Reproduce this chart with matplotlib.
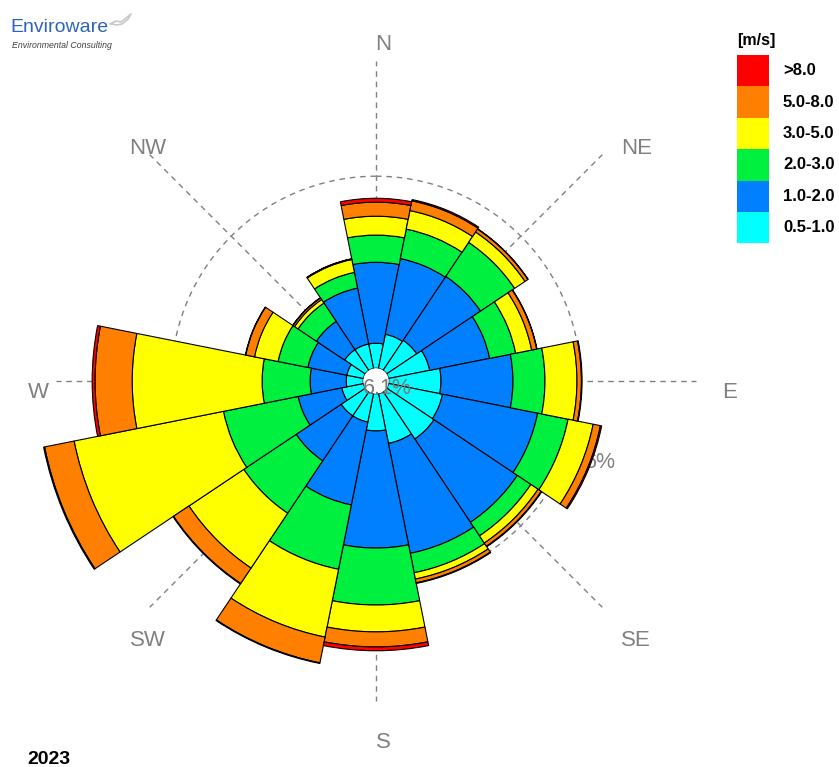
import numpy as np
import matplotlib
matplotlib.use("Agg")
import matplotlib.pyplot as plt
from matplotlib.lines import Line2D
from matplotlib.patches import Rectangle

# ---- data -----------------------------------------------------------------
directions = ["N", "NNE", "NE", "ENE", "E", "ESE", "SE", "SSE",
              "S", "SSW", "SW", "WSW", "W", "WNW", "NW", "NNW"]
speed_labels = ["0.5-1.0", "1.0-2.0", "2.0-3.0", "3.0-5.0", "5.0-8.0", ">8.0"]

# frequency of occurrence (%) for each direction, one list per speed class
freq_05_10 = [0.78, 1.09, 1.13, 1.31, 1.63, 1.72, 1.78, 1.59,
              1.16, 0.91, 0.91, 0.69, 0.53, 0.53, 0.78, 0.78]
freq_10_20 = [2.53, 2.41, 2.40, 1.91, 2.25, 3.03, 3.13, 3.50,
              3.66, 2.64, 1.69, 1.39, 1.13, 1.24, 1.06, 1.78]
freq_20_30 = [0.85, 0.94, 1.28, 0.83, 1.00, 0.97, 0.51, 0.62,
              1.78, 2.05, 1.97, 2.38, 1.50, 0.95, 0.69, 0.50]
freq_30_50 = [0.59, 0.59, 0.39, 0.51, 1.00, 0.80, 0.27, 0.20,
              0.84, 2.16, 2.06, 4.76, 4.06, 0.75, 0.13, 0.41]
freq_50_80 = [0.44, 0.31, 0.11, 0.16, 0.14, 0.23, 0.12, 0.12,
              0.47, 0.82, 0.58, 0.94, 1.16, 0.28, 0.06, 0.02]
freq_gt_80 = [0.12, 0.04, 0.01, 0.01, 0.02, 0.04, 0.02, 0.02,
              0.12, 0.02, 0.02, 0.03, 0.09, 0.01, 0.01, 0.00]

calms_pct = 6.1
ring_pct = 6
year_label = "2023"

speed_colors = ["#00FFFF", "#0080FF", "#00F040", "#FFFF00", "#FF8000", "#FF0000"]

# ---- figure ---------------------------------------------------------------
W_PX, H_PX = 839, 767
DPI = 100
fig = plt.figure(figsize=(W_PX / DPI, H_PX / DPI), dpi=DPI, facecolor="white")


def fx(px):
    return px / W_PX


def fy(py):
    return 1 - py / H_PX


# polar axes geometry (pixels)
cx, cy = 376, 381          # centre of the rose
px_per_pct = 32.0          # radial scale
hole = 0.4                 # calm circle, in % units
rmax = 11.0
R = (rmax + hole) * px_per_pct
ax = fig.add_axes([fx(cx - R), fy(cy + R), 2 * R / W_PX, 2 * R / H_PX],
                  projection="polar")
ax.set_theta_zero_location("N")
ax.set_theta_direction(-1)
ax.set_rorigin(-hole)
ax.set_ylim(0, rmax)
ax.set_axis_off()

n = len(directions)
theta = np.arange(n) * 2 * np.pi / n
width = 2 * np.pi / n

# dashed guide lines and ring
guide = dict(color="#808080", lw=1.0, linestyle=(0, (4, 3.5)), zorder=1)
for k in range(8):
    a = k * np.pi / 4
    ax.plot([a, a], [0, 9.6], **guide)
circ = np.linspace(0, 2 * np.pi, 400)
ax.plot(circ, np.full_like(circ, ring_pct), **guide)

# ring label, drawn beneath the bars
ax.text(fx(616), fy(462), f"{ring_pct}%", ha="right", va="center",
        transform=fig.transFigure, color="#808080", fontsize=15.5,
        family="Liberation Sans", zorder=2)

# stacked bars
series = [freq_05_10, freq_10_20, freq_20_30, freq_30_50, freq_50_80, freq_gt_80]
bottom = np.zeros(n)
for vals, col in zip(series, speed_colors):
    vals = np.asarray(vals)
    ax.bar(theta, vals, width=width, bottom=bottom, color=col,
           edgecolor="black", linewidth=0.8, align="center", zorder=3)
    bottom = bottom + vals

# calms in the centre
fig.text(fx(387), fy(388), f"{calms_pct}%", ha="center", va="center",
         color="#7a7a7a", fontsize=15.5, family="Liberation Sans", zorder=10)

# compass labels
compass = {"N": (383, 45), "NE": (637, 148), "E": (730, 393), "SE": (636, 640),
           "S": (383, 742), "SW": (148, 640), "W": (38, 393), "NW": (148, 148)}
for lab, (x, y) in compass.items():
    fig.text(fx(x), fy(y), lab, ha="center", va="center", color="#808080",
             fontsize=16, family="Liberation Sans")

# legend
box_x0, box_x1 = 737, 769
box_top, box_h = 55, 31.4
fig.text(fx(756), fy(40), "[m/s]", ha="center", va="center", fontsize=11.5,
         fontweight="bold", family="Liberation Sans")
for i, (lab, col) in enumerate(zip(speed_labels[::-1], speed_colors[::-1])):
    y0 = box_top + i * box_h
    fig.add_artist(Rectangle((fx(box_x0), fy(y0 + box_h)),
                             (box_x1 - box_x0) / W_PX, box_h / H_PX,
                             transform=fig.transFigure, facecolor=col,
                             edgecolor="none"))
    fig.text(fx(783), fy(y0 + box_h / 2), lab, ha="left", va="center",
             fontsize=12, fontweight="bold", family="Liberation Sans")

# year
fig.text(fx(27), fy(759), year_label, ha="left", va="center", fontsize=14,
         fontweight="bold", family="Liberation Sans")

# company logo
fig.text(fx(10), fy(27), "Enviroware", ha="left", va="center", fontsize=14,
         color="#2F64B4", family="Liberation Sans")
fig.text(fx(12), fy(45), "Environmental Consulting", ha="left", va="center",
         fontsize=6.3, style="italic", color="#404040", family="Liberation Sans")
bird_x = [110, 116, 121, 126, 131, 128, 122, 117, 112]
bird_y = [24, 21, 22, 18, 14, 19, 24, 25, 24]
fig.add_artist(Line2D([fx(v) for v in bird_x], [fy(v) for v in bird_y],
                      transform=fig.transFigure, color="#C8C8C8", lw=1.2))

fig.savefig("out.png", dpi=DPI, facecolor="white")
